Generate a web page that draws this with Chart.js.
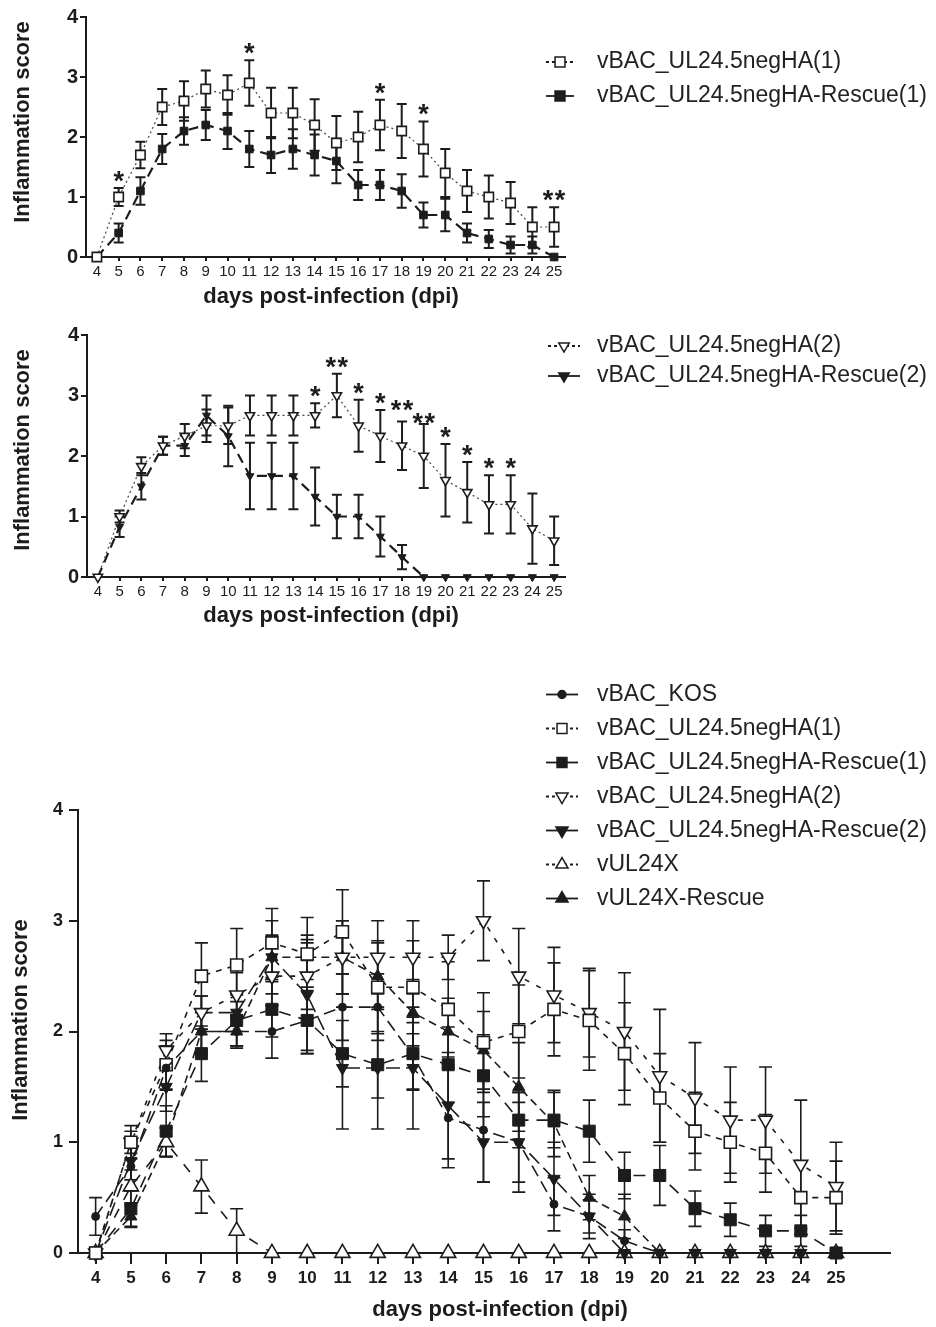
<!DOCTYPE html>
<html>
<head>
<meta charset="utf-8">
<script src="https://cdn.jsdelivr.net/npm/chart.js@4.4.0/dist/chart.umd.min.js"></script>
<style>
  body { margin: 0; background: #fff; }
  .panel { position: absolute; left: 0; }
</style>
</head>
<body>
<div class="panel" style="top:0"><canvas id="chart1" width="936" height="320"></canvas></div>
<div class="panel" style="top:320px"><canvas id="chart2" width="936" height="320"></canvas></div>
<div class="panel" style="top:640px"><canvas id="chart3" width="936" height="687"></canvas></div>
<script>
// --- Data (days post-infection 4..25) ---
const days = [4, 5, 6, 7, 8, 9, 10, 11, 12, 13, 14, 15, 16, 17, 18, 19, 20, 21, 22, 23, 24, 25];
const yTicks = [0, 1, 2, 3, 4];

const kos       = [0.33, 0.78, 1.67, 2.0, 2.0, 2.0, 2.1, 2.22, 2.22, 1.78, 1.22, 1.11, 1.0, 0.44, 0.33, 0.11, 0, 0, 0, 0, 0, 0];
const kosErr    = [0.17, 0.2, 0.2, 0.2, 0.15, 0.24, 0.3, 0.3, 0.3, 0.3, 0.45, 0.47, 0.45, 0.24, 0.15, 0.1, 0, 0, 0, 0, 0, 0];

const negHA1    = [0, 1.0, 1.7, 2.5, 2.6, 2.8, 2.7, 2.9, 2.4, 2.4, 2.2, 1.9, 2.0, 2.2, 2.1, 1.8, 1.4, 1.1, 1.0, 0.9, 0.5, 0.5];
const negHA1Err = [0, 0.15, 0.22, 0.3, 0.33, 0.31, 0.33, 0.38, 0.42, 0.42, 0.43, 0.45, 0.42, 0.42, 0.45, 0.46, 0.4, 0.35, 0.36, 0.35, 0.33, 0.33];

const rescue1    = [0, 0.4, 1.1, 1.8, 2.1, 2.2, 2.1, 1.8, 1.7, 1.8, 1.7, 1.6, 1.2, 1.2, 1.1, 0.7, 0.7, 0.4, 0.3, 0.2, 0.2, 0];
const rescue1Err = [0, 0.16, 0.23, 0.25, 0.23, 0.25, 0.3, 0.3, 0.3, 0.33, 0.34, 0.37, 0.25, 0.25, 0.28, 0.21, 0.27, 0.16, 0.15, 0.14, 0.14, 0];

const negHA2    = [0, 1.0, 1.83, 2.17, 2.33, 2.5, 2.5, 2.67, 2.67, 2.67, 2.67, 3.0, 2.5, 2.33, 2.17, 2.0, 1.6, 1.4, 1.2, 1.2, 0.8, 0.6];
const negHA2Err = [0, 0.1, 0.15, 0.15, 0.2, 0.27, 0.3, 0.33, 0.33, 0.33, 0.2, 0.36, 0.43, 0.43, 0.4, 0.53, 0.6, 0.5, 0.48, 0.48, 0.58, 0.4];

const rescue2    = [0, 0.83, 1.5, 2.17, 2.17, 2.67, 2.33, 1.67, 1.67, 1.67, 1.33, 1.0, 1.0, 0.67, 0.33, 0, 0, 0, 0, 0, 0, 0];
const rescue2Err = [0, 0.17, 0.22, 0.15, 0.17, 0.33, 0.5, 0.55, 0.55, 0.55, 0.48, 0.36, 0.36, 0.33, 0.2, 0, 0, 0, 0, 0, 0, 0];

const ul24x    = [0, 0.6, 1.0, 0.6, 0.2, 0, 0, 0, 0, 0, 0, 0, 0, 0, 0, 0, 0, 0, 0, 0, 0, 0];
const ul24xErr = [0, 0.15, 0.13, 0.24, 0.2, 0, 0, 0, 0, 0, 0, 0, 0, 0, 0, 0, 0, 0, 0, 0, 0, 0];

const ul24xRescue    = [0, 0.33, 1.0, 2.0, 2.0, 2.67, 2.67, 2.67, 2.5, 2.17, 2.0, 1.83, 1.5, 1.17, 0.5, 0.33, 0, 0, 0, 0, 0, 0];
const ul24xRescueErr = [0, 0.1, 0.13, 0.17, 0.13, 0.2, 0.2, 0.33, 0.3, 0.3, 0.3, 0.35, 0.4, 0.3, 0.2, 0.2, 0, 0, 0, 0, 0, 0];

// significance marks above the mutant series
const sigPanel1 = ['', '*', '', '', '', '', '', '*', '', '', '', '', '', '*', '', '*', '', '', '', '', '', '**'];
const sigPanel2 = ['', '', '', '', '', '', '', '', '', '', '*', '**', '*', '*', '**', '**', '*', '*', '*', '*', '', ''];

const INK = '#1c1c1c';
const FONT = '"Liberation Sans", Arial, Helvetica, sans-serif';

function drawMarker(ctx, style, rot, r, x, y, fill, lw) {
    ctx.save();
    ctx.translate(x, y);
    ctx.rotate(rot * Math.PI / 180);
    ctx.beginPath();
    if (style === 'circle') {
        ctx.arc(0, 0, r, 0, Math.PI * 2);
    } else if (style === 'rect') {
        const s = r * Math.SQRT1_2;
        ctx.rect(-s, -s, 2 * s, 2 * s);
    } else {
        for (let k = 0; k < 3; k++) {
            const a = k * 2 * Math.PI / 3;
            ctx[k ? 'lineTo' : 'moveTo'](Math.sin(a) * r, -Math.cos(a) * r);
        }
        ctx.closePath();
    }
    ctx.fillStyle = fill;
    ctx.fill();
    ctx.lineWidth = lw;
    ctx.strokeStyle = INK;
    ctx.stroke();
    ctx.restore();
}

// --- Plugins ---
const errorBars = {
    id: 'errorBars',
    beforeDatasetsDraw(chart, args, opts) {
        const { ctx, scales: { x, y } } = chart;
        ctx.save();
        ctx.strokeStyle = INK;
        ctx.lineWidth = opts.width;
        chart.data.datasets.forEach(ds => {
            if (!ds.errors) return;
            ds.data.forEach((p, i) => {
                const e = ds.errors[i];
                if (!e) return;
                const px = x.getPixelForValue(p.x);
                const lo = y.getPixelForValue(p.y - e);
                const hi = y.getPixelForValue(p.y + e);
                ctx.beginPath();
                ctx.moveTo(px, lo); ctx.lineTo(px, hi);
                ctx.moveTo(px - opts.cap, lo); ctx.lineTo(px + opts.cap, lo);
                ctx.moveTo(px - opts.cap, hi); ctx.lineTo(px + opts.cap, hi);
                ctx.stroke();
            });
        });
        ctx.restore();
    }
};

const stars = {
    id: 'stars',
    afterDatasetsDraw(chart, args, opts) {
        const { ctx, scales: { x, y } } = chart;
        ctx.save();
        ctx.fillStyle = INK;
        ctx.font = opts.font;
        ctx.textAlign = 'center';
        ctx.textBaseline = 'alphabetic';
        chart.data.datasets.forEach(ds => {
            if (!ds.sig) return;
            ds.data.forEach((p, i) => {
                const s = ds.sig[i];
                if (!s) return;
                const px = x.getPixelForValue(p.x);
                const nudge = (opts.nudge && opts.nudge[p.x]) || 0;
                const py = y.getPixelForValue(p.y + (ds.errors[i] || 0)) + opts.offset + nudge;
                for (let k = 0; k < s.length; k++) {
                    ctx.fillText('*', px + (k - (s.length - 1) / 2) * opts.spacing, py);
                }
            });
        });
        ctx.restore();
    }
};

const sideLegend = {
    id: 'sideLegend',
    afterDraw(chart, args, opts) {
        const ctx = chart.ctx;
        ctx.save();
        chart.data.datasets.forEach((ds, i) => {
            const y = opts.y + i * opts.step;
            ctx.strokeStyle = INK;
            ctx.lineWidth = 1.8;
            ctx.setLineDash(ds.open ? [3, 3] : []);
            ctx.beginPath();
            ctx.moveTo(opts.x, y);
            ctx.lineTo(opts.x + opts.len, y);
            ctx.stroke();
            ctx.setLineDash([]);
            drawMarker(ctx, ds.pointStyle, ds.pointRotation || 0, ds.legendRadius,
                opts.x + opts.len / 2, y, ds.open ? '#fff' : INK, 1.5);
            ctx.fillStyle = '#222';
            ctx.font = '23px ' + FONT;
            ctx.textAlign = 'left';
            ctx.textBaseline = 'middle';
            ctx.fillText(ds.label, opts.textX, y);
        });
        ctx.restore();
    }
};

// axis titles placed where the original figure has them
const axisTitles = {
    id: 'axisTitles',
    afterDraw(chart, args, opts) {
        const ctx = chart.ctx;
        ctx.save();
        ctx.fillStyle = INK;
        ctx.font = 'bold 22px ' + FONT;
        ctx.textAlign = 'center';
        ctx.textBaseline = 'middle';
        ctx.fillText('days post-infection (dpi)', opts.x[0], opts.x[1]);
        ctx.translate(opts.y[0], opts.y[1]);
        ctx.rotate(-Math.PI / 2);
        ctx.fillText('Inflammation score', 0, 0);
        ctx.restore();
    }
};

// --- Series builder ---
function series(label, values, errors, st) {
    return {
        label: label,
        data: days.map((d, i) => ({ x: d, y: values[i] })),
        errors: errors,
        sig: st.sig || null,
        open: st.open,
        legendRadius: st.legendRadius,
        borderColor: st.lineColor || INK,
        borderWidth: st.lineWidth,
        borderDash: st.dash,
        pointStyle: st.shape,
        pointRotation: st.rot || 0,
        pointRadius: st.r,
        pointHoverRadius: st.r,
        pointBackgroundColor: st.open ? '#fff' : INK,
        pointBorderColor: INK,
        pointBorderWidth: st.open ? 1.6 : 1,
        fill: false,
        tension: 0,
        clip: false
    };
}

function makeChart(id, g, datasets) {
    return new Chart(document.getElementById(id), {
        type: 'line',
        data: { datasets: datasets },
        options: {
            responsive: false,
            animation: false,
            events: [],
            layout: { padding: { left: 0, top: g.top, right: g.right, bottom: 0 } },
            plugins: {
                legend: { display: false },
                tooltip: { enabled: false },
                errorBars: { width: g.errWidth, cap: g.cap },
                stars: { font: 'bold 27px ' + FONT, spacing: 12, offset: 2, nudge: g.starNudge },
                sideLegend: g.legend,
                axisTitles: g.titles
            },
            scales: {
                x: {
                    type: 'linear',
                    min: 3.5,
                    max: g.xMax,
                    afterBuildTicks: axis => { axis.ticks = days.map(v => ({ value: v })); },
                    afterFit: s => { s.height = g.xHeight; },
                    grid: { drawOnChartArea: false, drawTicks: true, tickLength: g.xTick, color: INK, lineWidth: g.axisWidth },
                    border: { display: true, color: INK, width: g.axisWidth },
                    ticks: { color: INK, autoSkip: false, maxRotation: 0, padding: g.xPad,
                             font: { family: FONT, size: g.xFont, weight: g.xWeight } }
                },
                y: {
                    min: yTicks[0],
                    max: yTicks[yTicks.length - 1],
                    afterFit: s => { s.width = g.yWidth; },
                    grid: { drawOnChartArea: false, drawTicks: true, tickLength: g.yTick, color: INK, lineWidth: g.axisWidth },
                    border: { display: true, color: INK, width: g.axisWidth },
                    ticks: { stepSize: 1, color: INK, padding: g.yPad,
                             font: { family: FONT, size: g.yFont, weight: 'bold' } }
                }
            }
        },
        plugins: [errorBars, stars, sideLegend, axisTitles]
    });
}

const smallPanel = {
    right: 371, xMax: 25.5, xHeight: 63, xTick: 4, xPad: 2, xFont: 15, xWeight: 'normal',
    yTick: 6, yPad: 2, yFont: 20, axisWidth: 2, errWidth: 2, cap: 5
};

// Panel 1: mutant (1) vs rescue (1)
makeChart('chart1', Object.assign({}, smallPanel, {
    top: 17, yWidth: 86,
    titles: { x: [331, 297], y: [23, 122] },
    legend: { x: 546, len: 28, textX: 597, y: 62, step: 34 }
}), [
    series('vBAC_UL24.5negHA(1)', negHA1, negHA1Err,
        { shape: 'rect', r: 6.6, open: true, lineWidth: 1.2, dash: [2, 3], lineColor: '#444', legendRadius: 7, sig: sigPanel1 }),
    series('vBAC_UL24.5negHA-Rescue(1)', rescue1, rescue1Err,
        { shape: 'rect', r: 5.4, open: false, lineWidth: 2.2, dash: [10, 6], legendRadius: 7 })
]);

// Panel 2: mutant (2) vs rescue (2)
makeChart('chart2', Object.assign({}, smallPanel, {
    top: 15, yWidth: 87,
    titles: { x: [331, 296], y: [23, 130] },
    starNudge: { 18: -5, 19: 6 },
    legend: { x: 548, len: 32, textX: 597, y: 26, step: 30 }
}), [
    series('vBAC_UL24.5negHA(2)', negHA2, negHA2Err,
        { shape: 'triangle', rot: 180, r: 5.4, open: true, lineWidth: 1.2, dash: [2, 3], lineColor: '#444', legendRadius: 6, sig: sigPanel2 }),
    series('vBAC_UL24.5negHA-Rescue(2)', rescue2, rescue2Err,
        { shape: 'triangle', rot: 180, r: 4.6, open: false, lineWidth: 2.2, dash: [10, 6], legendRadius: 6 })
]);

// Panel 3: all viruses
makeChart('chart3', {
    top: 170, right: 46, xMax: 26.53, yWidth: 78, xHeight: 74, xTick: 11, xPad: 4, xFont: 17, xWeight: 'bold',
    yTick: 9, yPad: 6, yFont: 18, axisWidth: 2, errWidth: 1.6, cap: 6.5,
    titles: { x: [500, 670], y: [21, 380] },
    legend: { x: 546, len: 32, textX: 597, y: 54.5, step: 34 }
}, [
    series('vBAC_KOS', kos, kosErr,
        { shape: 'circle', r: 4, open: false, lineWidth: 1.6, dash: [12, 6], legendRadius: 4 }),
    series('vBAC_UL24.5negHA(1)', negHA1, negHA1Err,
        { shape: 'rect', r: 8.5, open: true, lineWidth: 1.6, dash: [6, 6], legendRadius: 7 }),
    series('vBAC_UL24.5negHA-Rescue(1)', rescue1, rescue1Err,
        { shape: 'rect', r: 8.5, open: false, lineWidth: 1.6, dash: [12, 8], legendRadius: 7 }),
    series('vBAC_UL24.5negHA(2)', negHA2, negHA2Err,
        { shape: 'triangle', rot: 180, r: 8, open: true, lineWidth: 1.6, dash: [5, 8], legendRadius: 7 }),
    series('vBAC_UL24.5negHA-Rescue(2)', rescue2, rescue2Err,
        { shape: 'triangle', rot: 180, r: 7, open: false, lineWidth: 1.6, dash: [14, 6], legendRadius: 7 }),
    series('vUL24X', ul24x, ul24xErr,
        { shape: 'triangle', r: 8.7, open: true, lineWidth: 1.6, dash: [10, 10], legendRadius: 7 }),
    series('vUL24X-Rescue', ul24xRescue, ul24xRescueErr,
        { shape: 'triangle', r: 7, open: false, lineWidth: 1.6, dash: [8, 5], legendRadius: 7 })
]);
</script>
</body>
</html>
